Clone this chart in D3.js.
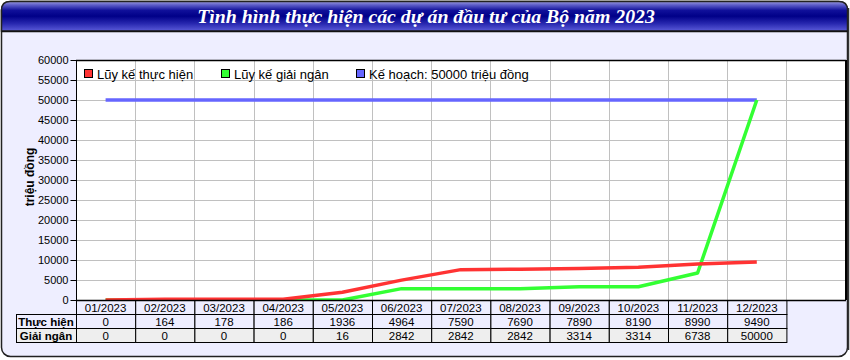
<!DOCTYPE html>
<html><head><meta charset="utf-8">
<script src="https://cdn.jsdelivr.net/npm/d3@7"></script>
<style>body{margin:0;background:#fff}svg{display:block;font-family:"Liberation Sans",Arial,sans-serif}</style>
</head><body>
<script>
const title = "Tình hình thực hiện các dự án đầu tư của Bộ năm 2023";
const categories = ["01/2023","02/2023","03/2023","04/2023","05/2023","06/2023","07/2023","08/2023","09/2023","10/2023","11/2023","12/2023"];
const thucHien = [0,164,178,186,1936,4964,7590,7690,7890,8190,8990,9490];
const giaiNgan = [0,0,0,0,16,2842,2842,2842,3314,3314,6738,50000];
const keHoach = [50000,50000,50000,50000,50000,50000,50000,50000,50000,50000,50000,50000];
const yTicks = [0,5000,10000,15000,20000,25000,30000,35000,40000,45000,50000,55000,60000];
const seriesNames = ["Lũy kế thực hiện","Lũy kế giải ngân","Kế hoạch: 50000 triệu đồng"];
const seriesColors = ["#FF3333","#33FF33","#6666FF"];
const rowLabels = ["Thực hiện","Giải ngân"];
const yLabel = "triệu đồng";

const W=850,H=360;
const svg=d3.select("body").append("svg").attr("width",W).attr("height",H);
const defs=svg.append("defs");
const g1=defs.append("linearGradient").attr("id","tg").attr("x1",0).attr("y1",0).attr("x2",0).attr("y2",1);
[[0,"#9a9ae0"],[0.12,"#5c5cc8"],[0.3,"#10109a"],[0.5,"#000088"],[0.75,"#2828b0"],[1,"#5a5ad8"]].forEach(s=>g1.append("stop").attr("offset",s[0]).attr("stop-color",s[1]));

// panel
svg.append("rect").attr("x",1.5).attr("y",1.5).attr("width",846).attr("height",355).attr("rx",9)
  .attr("fill","#EEEEFF").attr("stroke","#222").attr("stroke-width",1.5);
svg.append("line").attr("x1",848.5).attr("y1",8).attr("x2",848.5).attr("y2",350).attr("stroke","#333").attr("stroke-width",1.5);
// title bar
svg.append("path").attr("d","M1.5,31 L1.5,10 Q1.5,1.5 10,1.5 L839,1.5 Q847.5,1.5 847.5,10 L847.5,31 Z")
  .attr("fill","url(#tg)").attr("stroke","#222").attr("stroke-width",1.5);
svg.append("line").attr("x1",1.5).attr("x2",847.5).attr("y1",31.5).attr("y2",31.5).attr("stroke","#111").attr("stroke-width",1.5);
svg.append("text").attr("x",426).attr("y",23).attr("text-anchor","middle")
  .attr("font-family","'Liberation Serif','Times New Roman',serif").attr("font-style","italic").attr("font-weight","bold")
  .attr("font-size",19.8).attr("fill","#fff").text(title);

const L=76, T=60, B=300, R=846;
const bw=59.2;
const x=d3.scaleBand().domain(categories).range([L,L+bw*categories.length]);
const y=d3.scaleLinear().domain([0,60000]).range([B,T]);

svg.append("rect").attr("x",L).attr("y",T).attr("width",R-L).attr("height",B-T).attr("fill","#fff");
// grid
const grid=svg.append("g").attr("stroke","#C0C0C0").attr("stroke-width",1);
yTicks.slice(1,-1).forEach(t=>grid.append("line").attr("x1",L).attr("x2",R).attr("y1",Math.round(y(t))+0.5).attr("y2",Math.round(y(t))+0.5));
categories.forEach(c=>{const xx=Math.round(x(c)+x.bandwidth())+0.5;grid.append("line").attr("x1",xx).attr("x2",xx).attr("y1",T).attr("y2",B);});
// border
svg.append("line").attr("x1",L).attr("x2",R).attr("y1",T+0.5).attr("y2",T+0.5).attr("stroke","#000").attr("stroke-width",1.5);
svg.append("line").attr("x1",R).attr("x2",R).attr("y1",T).attr("y2",B).attr("stroke","#000").attr("stroke-width",2);

// y axis
const ya=svg.append("g").attr("transform",`translate(${L+0.5},0)`)
  .call(d3.axisLeft(y).tickValues(yTicks).tickSize(6).tickPadding(2).tickFormat(d3.format("d")));
ya.selectAll("text").attr("font-size",11).attr("fill","#000").attr("font-family","'Liberation Sans',Arial,sans-serif");
ya.selectAll("line,path").attr("stroke","#000");
ya.select("path").attr("d",`M0,${T}V${B}`);

svg.append("text").attr("transform",`translate(34,177) rotate(-90)`).attr("text-anchor","middle")
  .attr("font-size",12).attr("font-weight","bold").text(yLabel);

// lines
const line=d3.line().x((d,i)=>x(categories[i])+x.bandwidth()/2).y(d=>y(d));
[[keHoach,2],[giaiNgan,1],[thucHien,0]].forEach(([data,ci])=>{
  svg.append("path").datum(data).attr("d",line).attr("fill","none").attr("stroke",seriesColors[ci])
    .attr("stroke-width",3.5).attr("stroke-linejoin","round");
});

// legend
const legX=[84,221,356];
seriesNames.forEach((n,i)=>{
  svg.append("rect").attr("x",legX[i]+0.5).attr("y",69.5).attr("width",8).attr("height",8).attr("fill",seriesColors[i]).attr("stroke","#000");
  svg.append("text").attr("x",legX[i]+13).attr("y",78.5).attr("font-size",13).text(n);
});

// table
const rowH=14;
const tb=svg.append("g");
categories.forEach((c,i)=>{
  tb.append("rect").attr("x",x(c)+0.5).attr("y",B+0.5).attr("width",x.bandwidth()).attr("height",rowH).attr("fill","#EEEEFF").attr("stroke","#000");
  tb.append("text").attr("x",x(c)+x.bandwidth()/2).attr("y",B+12).attr("text-anchor","middle").attr("font-size",11.5).text(c);
});
[thucHien,giaiNgan].forEach((row,r)=>{
  const yy=B+rowH*(r+1);
  const fill=r===0?"#EEEEFF":"#EEEEEE";
  tb.append("rect").attr("x",16.5).attr("y",yy+0.5).attr("width",L-16).attr("height",rowH).attr("fill",fill).attr("stroke","#000");
  tb.append("text").attr("x",L/2+8).attr("y",yy+11.5).attr("text-anchor","middle").attr("font-size",11.5).attr("font-weight","bold").text(rowLabels[r]);
  row.forEach((v,i)=>{
    const c=categories[i];
    tb.append("rect").attr("x",x(c)+0.5).attr("y",yy+0.5).attr("width",x.bandwidth()).attr("height",rowH).attr("fill",fill).attr("stroke","#000");
    tb.append("text").attr("x",x(c)+x.bandwidth()/2).attr("y",yy+12).attr("text-anchor","middle").attr("font-size",11.5).text(v);
  });
});
svg.append("line").attr("x1",L).attr("x2",R).attr("y1",B+0.5).attr("y2",B+0.5).attr("stroke","#000").attr("stroke-width",1.5);
</script>
</body></html>
